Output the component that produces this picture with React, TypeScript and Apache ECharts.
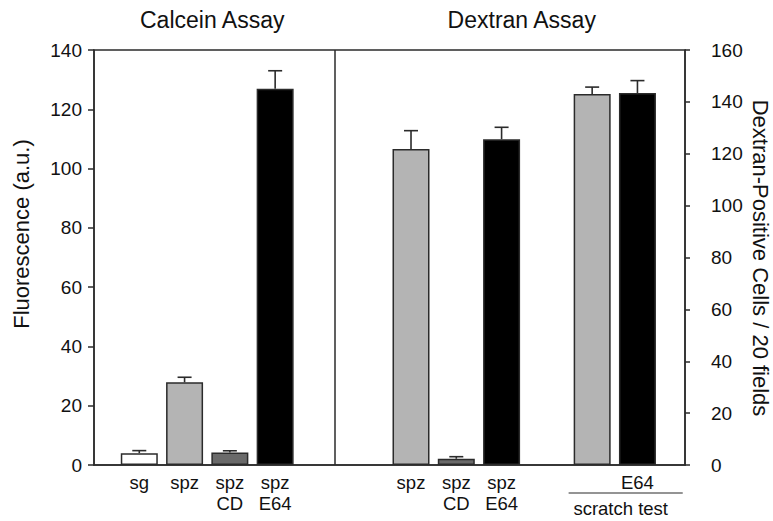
import React, { useEffect, useRef } from "react";
import * as echarts from "echarts";

// ---- data ----
const CALCEIN_POS = [1, 2, 3, 4];
const CALCEIN_LABELS = ["sg", "spz", "spz\nCD", "spz\nE64"];
const CALCEIN_VALUES = [4.0, 27.9, 4.2, 126.9];
const CALCEIN_ERRORS = [0.85, 1.7, 0.6, 6.1];

const DEXTRAN_POS = [7, 8, 9, 11, 12];
const DEXTRAN_LABELS = ["spz", "spz\nCD", "spz\nE64", "", "E64"];
const DEXTRAN_VALUES = [121.8, 2.4, 125.6, 143.0, 143.4];
const DEXTRAN_ERRORS = [7.1, 0.8, 4.6, 2.7, 4.8];

const LEFT_TICKS = [0, 20, 40, 60, 80, 100, 120, 140];
const RIGHT_TICKS = [0, 20, 40, 60, 80, 100, 120, 140, 160];

// styles (kept apart from the data)
const CALCEIN_FILLS = ["#ffffff", "#b4b4b4", "#6a6a6a", "#000000"];
const DEXTRAN_FILLS = ["#b4b4b4", "#6a6a6a", "#000000", "#b4b4b4", "#000000"];

const X_MAX = 13.05;
const DIVIDER_X = 5.31;
const BRACKET_FROM = 10.48;
const BRACKET_TO = 13.0;
const FONT = "'Liberation Sans', Arial, Helvetica, sans-serif";
const INK = "#2b2b2b";

export default function App() {
  const ref = useRef<HTMLDivElement>(null);
  useEffect(() => {
    if (!ref.current) return;
    const chart = echarts.init(ref.current, null, { renderer: "svg" });

    const labelMap: Record<number, string> = {};
    CALCEIN_POS.forEach((p, i) => (labelMap[p] = CALCEIN_LABELS[i]));
    DEXTRAN_POS.forEach((p, i) => (labelMap[p] = DEXTRAN_LABELS[i]));

    const errRender = (params: any, api: any) => {
      const x = api.value(0);
      const v = api.value(1);
      const e = api.value(2);
      const p0 = api.coord([x, v]);
      const p1 = api.coord([x, v + e]);
      const half = 7;
      const st = { stroke: INK, lineWidth: 1.6 };
      return {
        type: "group",
        children: [
          { type: "line", shape: { x1: p0[0], y1: p0[1], x2: p1[0], y2: p1[1] }, style: st },
          { type: "line", shape: { x1: p1[0] - half, y1: p1[1], x2: p1[0] + half, y2: p1[1] }, style: st },
        ],
      };
    };

    const option: any = {
      animation: false,
      grid: {
        left: 94,
        right: 88,
        top: 50,
        bottom: 56,
        show: true,
        borderColor: INK,
        borderWidth: 1.5,
        backgroundColor: "transparent",
      },
      xAxis: {
        type: "value",
        min: 0,
        max: X_MAX,
        interval: 1,
        splitLine: { show: false },
        axisTick: { show: false },
        axisLine: { show: true, lineStyle: { color: INK, width: 1.5 } },
        axisLabel: {
          show: true,
          margin: 7,
          fontFamily: FONT,
          fontSize: 18.5,
          lineHeight: 21,
          color: "#111",
          showMinLabel: false,
          showMaxLabel: false,
          formatter: (v: number) => labelMap[Math.round(v)] ?? "",
        },
      },
      yAxis: [
        {
          type: "value",
          min: 0,
          max: 140,
          interval: 20,
          position: "left",
          splitLine: { show: false },
          axisLine: { show: true, lineStyle: { color: INK, width: 1.5 } },
          axisTick: { show: true, inside: false, length: 6, lineStyle: { color: INK, width: 1.5 } },
          axisLabel: {
            margin: 12,
            fontFamily: FONT,
            fontSize: 19,
            color: "#111",
            formatter: (v: number) => (LEFT_TICKS.includes(v) ? String(v) : ""),
          },
        },
        {
          type: "value",
          min: 0,
          max: 160,
          interval: 20,
          position: "right",
          splitLine: { show: false },
          axisLine: { show: true, lineStyle: { color: INK, width: 1.5 } },
          axisTick: { show: true, inside: false, length: 5, lineStyle: { color: INK, width: 1.5 } },
          axisLabel: {
            margin: 26,
            fontFamily: FONT,
            fontSize: 19,
            color: "#111",
            formatter: (v: number) => (RIGHT_TICKS.includes(v) ? String(v) : ""),
          },
        },
      ],
      series: [
        {
          type: "bar",
          name: "Calcein",
          yAxisIndex: 0,
          barWidth: 37,
          barGap: "-100%",
          data: CALCEIN_POS.map((p, i) => ({
            value: [p, CALCEIN_VALUES[i]],
            itemStyle: { color: CALCEIN_FILLS[i], borderColor: INK, borderWidth: 1.5 },
          })),
          markLine: {
            silent: true,
            symbol: "none",
            label: { show: false },
            lineStyle: { color: INK, width: 1.5, type: "solid" },
            data: [{ xAxis: DIVIDER_X }],
          },
        },
        {
          type: "bar",
          name: "Dextran",
          yAxisIndex: 1,
          barWidth: 37,
          barGap: "-100%",
          data: DEXTRAN_POS.map((p, i) => ({
            value: [p, DEXTRAN_VALUES[i]],
            itemStyle: { color: DEXTRAN_FILLS[i], borderColor: INK, borderWidth: 1.5 },
          })),
        },
        {
          type: "custom",
          yAxisIndex: 0,
          renderItem: errRender,
          z: 5,
          data: CALCEIN_POS.map((p, i) => [p, CALCEIN_VALUES[i], CALCEIN_ERRORS[i]]),
        },
        {
          type: "custom",
          yAxisIndex: 1,
          renderItem: errRender,
          z: 5,
          data: DEXTRAN_POS.map((p, i) => [p, DEXTRAN_VALUES[i], DEXTRAN_ERRORS[i]]),
        },
      ],
    };
    chart.setOption(option);

    const px = (v: number) => chart.convertToPixel({ xAxisIndex: 0 }, v) as number;
    const leftMid = (px(1) + px(4)) / 2;
    const rightMid = (px(7) + px(12)) / 2;
    chart.setOption({
      graphic: [
        {
          type: "text",
          x: leftMid + 5,
          y: 20,
          style: { text: "Calcein Assay", font: `23px ${FONT}`, fill: "#111", align: "center", verticalAlign: "middle" },
        },
        {
          type: "text",
          x: rightMid - 2.5,
          y: 20,
          style: { text: "Dextran Assay", font: `23px ${FONT}`, fill: "#111", align: "center", verticalAlign: "middle" },
        },
        {
          type: "text",
          x: 21,
          y: 234,
          rotation: Math.PI / 2,
          style: { text: "Fluorescence (a.u.)", font: `22px ${FONT}`, fill: "#111", align: "center", verticalAlign: "middle" },
        },
        {
          type: "text",
          x: 760,
          y: 258,
          rotation: -Math.PI / 2,
          style: { text: "Dextran-Positive Cells / 20 fields", font: `22px ${FONT}`, fill: "#111", align: "center", verticalAlign: "middle" },
        },
        {
          type: "line",
          shape: { x1: px(BRACKET_FROM), y1: 493, x2: px(BRACKET_TO), y2: 493 },
          style: { stroke: INK, lineWidth: 1.2 },
        },
        {
          type: "text",
          x: (px(BRACKET_FROM) + px(BRACKET_TO)) / 2 - 5,
          y: 508,
          style: { text: "scratch test", font: `18.5px ${FONT}`, fill: "#111", align: "center", verticalAlign: "middle" },
        },
      ],
    });

    return () => chart.dispose();
  }, []);
  return <div ref={ref} style={{ width: 773, height: 521, position: "absolute", left: 0, top: 0 }} />;
}
